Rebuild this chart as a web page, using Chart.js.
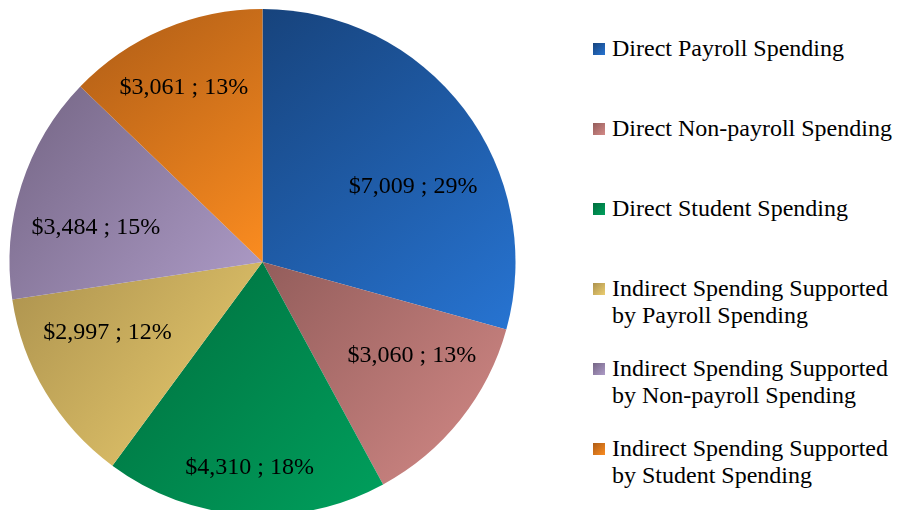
<!DOCTYPE html>
<html>
<head>
<meta charset="utf-8">
<script src="https://cdn.jsdelivr.net/npm/chart.js@4/dist/chart.umd.min.js"></script>
<style>
  html, body { margin: 0; padding: 0; background: #ffffff; overflow: hidden; }
  #wrap { position: absolute; left: 0; top: 0; width: 525px; height: 525px; }
  #legend { position: absolute; left: 0; top: 0; font-family: "Liberation Serif", "Times New Roman", serif; font-size: 24px; color: #000; }
  .item { position: absolute; left: 612px; line-height: 27px; white-space: nowrap; }
  .sw { position: absolute; width: 12px; height: 12px; left: 593px; }
</style>
</head>
<body>
<div id="wrap"><canvas id="c"></canvas></div>
<div id="legend"></div>
<script>
// ---- data ----
const categories = [
  "Direct Payroll Spending",
  "Direct Non-payroll Spending",
  "Direct Student Spending",
  "Indirect Spending Supported by Payroll Spending",
  "Indirect Spending Supported by Non-payroll Spending",
  "Indirect Spending Supported by Student Spending"
];
const legendLines = [
  ["Direct Payroll Spending"],
  ["Direct Non-payroll Spending"],
  ["Direct Student Spending"],
  ["Indirect Spending Supported", "by Payroll Spending"],
  ["Indirect Spending Supported", "by Non-payroll Spending"],
  ["Indirect Spending Supported", "by Student Spending"]
];
const values = [7009, 3060, 4310, 2997, 3484, 3061];

// ---- styles ----
const darkColors  = ["#17437c", "#935d5b", "#006d3d", "#ac924e", "#746584", "#ad5c16"];
const lightColors = ["#2774d2", "#d48a87", "#00a05d", "#ecce70", "#ae9cc8", "#fb8c20"];
// label placement relative to each arc: angle shift (deg) from mid-angle, radius fraction
const labelShift = [10.8, -6.3, -0.4, 6.4, -6.2, -1.3];
const labelRadius = [0.665, 0.698, 0.816, 0.674, 0.672, 0.755];
const LABEL_FONT = '24px "Liberation Serif", "Times New Roman", serif';

// whole-number percentages summing to 100 (largest remainder)
function percents(vals) {
  const total = vals.reduce((a, b) => a + b, 0);
  const raw = vals.map(v => v / total * 100);
  const out = raw.map(Math.floor);
  let left = 100 - out.reduce((a, b) => a + b, 0);
  const order = raw.map((r, i) => [r - Math.floor(r), i]).sort((a, b) => b[0] - a[0]);
  for (let k = 0; k < left; k++) out[order[k][1]] += 1;
  return out;
}

function sliceGradient(ctx) {
  const chart = ctx.chart;
  const area = chart.chartArea;
  const i = ctx.dataIndex;
  if (!area || i === undefined) return lightColors[i || 0];
  const vals = ctx.dataset.data;
  const total = vals.reduce((a, b) => a + b, 0);
  let before = 0;
  for (let k = 0; k < i; k++) before += vals[k];
  const a0 = -Math.PI / 2 + 2 * Math.PI * before / total;
  const a1 = a0 + 2 * Math.PI * vals[i] / total;
  const cx = (area.left + area.right) / 2, cy = (area.top + area.bottom) / 2;
  const r = Math.min(area.right - area.left, area.bottom - area.top) / 2;
  const xs = [cx, cx + r * Math.cos(a0), cx + r * Math.cos(a1)];
  const ys = [cy, cy + r * Math.sin(a0), cy + r * Math.sin(a1)];
  for (let k = -4; k <= 8; k++) {
    const ang = k * Math.PI / 2;
    if (ang > a0 && ang < a1) { xs.push(cx + r * Math.cos(ang)); ys.push(cy + r * Math.sin(ang)); }
  }
  const g = chart.ctx.createLinearGradient(Math.min(...xs), Math.min(...ys), Math.max(...xs), Math.max(...ys));
  g.addColorStop(0, darkColors[i]);
  g.addColorStop(1, lightColors[i]);
  return g;
}

const labelPlugin = {
  id: 'sliceLabels',
  afterDatasetsDraw(chart) {
    const meta = chart.getDatasetMeta(0);
    const data = chart.data.datasets[0].data;
    const pcts = percents(data);
    const c = chart.ctx;
    c.save();
    c.font = LABEL_FONT;
    c.fillStyle = '#000';
    c.textAlign = 'center';
    c.textBaseline = 'middle';
    meta.data.forEach((arc, i) => {
      const p = arc.getProps(['x', 'y', 'startAngle', 'endAngle', 'outerRadius'], true);
      const mid = (p.startAngle + p.endAngle) / 2 + labelShift[i] * Math.PI / 180;
      const rr = p.outerRadius * labelRadius[i];
      const tx = p.x + rr * Math.cos(mid);
      const ty = p.y + rr * Math.sin(mid);
      c.fillText('$' + data[i].toLocaleString('en-US') + ' ; ' + pcts[i] + '%', tx, ty);
    });
    c.restore();
  }
};

new Chart(document.getElementById('c'), {
  type: 'pie',
  data: {
    labels: categories,
    datasets: [{
      data: values,
      backgroundColor: sliceGradient,
      borderWidth: 0,
      hoverOffset: 0
    }]
  },
  options: {
    responsive: true,
    maintainAspectRatio: false,
    animation: false,
    layout: { padding: { left: 9, right: 9, top: 9, bottom: 10 } },
    plugins: { legend: { display: false }, tooltip: { enabled: false } }
  },
  plugins: [labelPlugin]
});

// HTML legend
const legend = document.getElementById('legend');
const swTops = [43, 123, 203, 283, 363, 443];
legendLines.forEach((lines, i) => {
  const sw = document.createElement('div');
  sw.className = 'sw';
  sw.style.top = swTops[i] + 'px';
  sw.style.background = 'linear-gradient(135deg, ' + darkColors[i] + ', ' + lightColors[i] + ')';
  legend.appendChild(sw);
  const it = document.createElement('div');
  it.className = 'item';
  it.style.top = (swTops[i] - 8) + 'px';
  it.innerHTML = lines.join('<br>');
  legend.appendChild(it);
});
</script>
</body>
</html>
